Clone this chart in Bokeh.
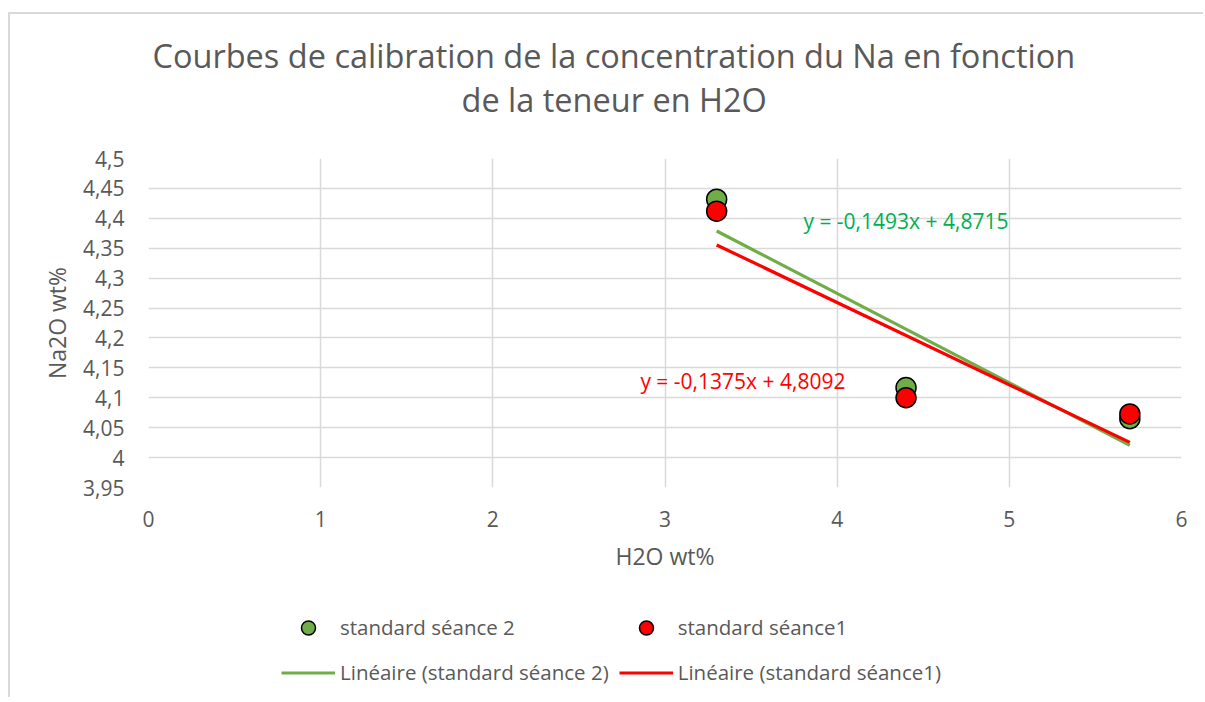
from bokeh.plotting import figure
from bokeh.layouts import column
from bokeh.models import (Range1d, FixedTicker, Label, Legend, LegendItem, Title)
from bokeh.embed import file_html
from bokeh.resources import INLINE

# ---- data ----
x_s2 = [3.3, 4.4, 5.7]
y_s2 = [4.432, 4.117, 4.065]
x_s1 = [3.3, 4.4, 5.7]
y_s1 = [4.412, 4.100, 4.073]

fit_s2 = (-0.1493, 4.8715)   # slope, intercept (linear trendline)
fit_s1 = (-0.1375, 4.8092)
eq_s2 = "y = -0,1493x + 4,8715"
eq_s1 = "y = -0,1375x + 4,8092"

x_ticks = [0, 1, 2, 3, 4, 5, 6]
x_tick_labels = ["0", "1", "2", "3", "4", "5", "6"]
y_ticks = [3.95, 4.0, 4.05, 4.1, 4.15, 4.2, 4.25, 4.3, 4.35, 4.4, 4.45, 4.5]
y_tick_labels = ["3,95", "4", "4,05", "4,1", "4,15", "4,2", "4,25", "4,3",
                 "4,35", "4,4", "4,45", "4,5"]

title_lines = ["Courbes de calibration de la concentration du Na en fonction",
               "de la teneur en H2O"]
names = ["standard séance 2", "standard séance1",
         "Linéaire (standard séance 2)", "Linéaire (standard séance1)"]

FONT = "Open Sans"
TXT = "#595959"
GRID = "#D9D9D9"
GREEN = "#70AD47"
RED = "#FF0000"
EQ_GREEN = "#00B050"
NAN = float("nan")

# ---------------- main chart ----------------
p = figure(frame_width=1033, frame_height=329,
           min_border_left=138, min_border_right=22,
           min_border_top=144, min_border_bottom=110,
           x_range=Range1d(0, 6), y_range=Range1d(3.95, 4.5),
           output_backend="svg", toolbar_location=None,
           background_fill_color="white", border_fill_color="white")
p.outline_line_color = None

# titles (first added is closest to the plot)
p.title = None
t2 = Title(text=title_lines[1], align="left", text_font=FONT, text_font_size="32.5px",
           text_font_style="normal", text_color=TXT, standoff=74, offset=313)
t1 = Title(text=title_lines[0], align="left", text_font=FONT, text_font_size="32.5px",
           text_font_style="normal", text_color=TXT, standoff=-80, offset=4)
p.add_layout(t2, "above")
p.add_layout(t1, "above")

# axes
for ax in (p.xaxis[0], p.yaxis[0]):
    ax.axis_line_color = None
    ax.major_tick_line_color = None
    ax.minor_tick_line_color = None
    ax.major_tick_out = 0
    ax.major_tick_in = 0
    ax.minor_tick_out = 0
    ax.major_label_text_font = FONT
    ax.major_label_text_font_size = "21px"
    ax.major_label_text_color = TXT
    ax.axis_label_text_font = FONT
    ax.axis_label_text_font_size = "23px"
    ax.axis_label_text_font_style = "normal"
    ax.axis_label_text_color = TXT

p.xaxis.ticker = FixedTicker(ticks=x_ticks)
p.xaxis.major_label_overrides = {t: l for t, l in zip(x_ticks, x_tick_labels)}
p.yaxis.ticker = FixedTicker(ticks=y_ticks)
p.yaxis.major_label_overrides = {t: l for t, l in zip(y_ticks, y_tick_labels)}
p.xaxis.axis_label = "H2O wt%"
p.yaxis.axis_label = "Na2O wt%"
p.xaxis.major_label_standoff = 23
p.yaxis.major_label_standoff = 24
p.xaxis.axis_label_standoff = 10
p.yaxis.axis_label_standoff = 7

p.xgrid.ticker = FixedTicker(ticks=x_ticks)
p.ygrid.ticker = FixedTicker(ticks=y_ticks)
p.xgrid.grid_line_color = GRID
p.ygrid.grid_line_color = GRID
p.xgrid.grid_line_width = 1.5
p.ygrid.grid_line_width = 1.5

# trendlines
def trend(xs, fit):
    xe = [min(xs), max(xs)]
    return xe, [fit[0] * v + fit[1] for v in xe]

tx2, ty2 = trend(x_s2, fit_s2)
tx1, ty1 = trend(x_s1, fit_s1)
p.line(tx2, ty2, line_color=GREEN, line_width=3.2)
p.line(tx1, ty1, line_color=RED, line_width=3.2)

# points
p.scatter(x_s2, y_s2, size=20, fill_color=GREEN, line_color="black", line_width=1.5)
p.scatter(x_s1, y_s1, size=20, fill_color=RED, line_color="black", line_width=1.5)

# equation labels
p.add_layout(Label(x=3.804, y=4.395, text=eq_s2, text_font=FONT, text_font_size="21px",
                   text_color=EQ_GREEN, text_baseline="middle", text_align="left"))
p.add_layout(Label(x=2.857, y=4.128, text=eq_s1, text_font=FONT, text_font_size="21px",
                   text_color=RED, text_baseline="middle", text_align="left"))

# ---------------- legend strip ----------------
lf = figure(width=1193, height=100, min_border=0,
            x_range=Range1d(0, 1), y_range=Range1d(0, 1),
            x_axis_location=None, y_axis_location=None,
            output_backend="svg", toolbar_location=None,
            background_fill_color="white", border_fill_color="white")
lf.outline_line_color = None
lf.xgrid.visible = False
lf.ygrid.visible = False

# legend-only renderers (no visible data)
g_c2 = lf.scatter(x=[NAN], y=[NAN], size=20, fill_color=GREEN, line_color="black", line_width=1.5)
g_c1 = lf.scatter(x=[NAN], y=[NAN], size=20, fill_color=RED, line_color="black", line_width=1.5)
g_l2 = lf.line(x=[NAN, NAN], y=[NAN, NAN], line_color=GREEN, line_width=3.2)
g_l1 = lf.line(x=[NAN, NAN], y=[NAN, NAN], line_color=RED, line_width=3.2)

# column-major fill: column 1 = séance 2 items, column 2 = séance1 items
legend = Legend(items=[LegendItem(label=names[0], renderers=[g_c2]),
                       LegendItem(label=names[2], renderers=[g_l2]),
                       LegendItem(label=names[1], renderers=[g_c1]),
                       LegendItem(label=names[3], renderers=[g_l1])],
                ncols=2, location=(133, 7.5),
                glyph_width=54, glyph_height=35, label_height=35,
                label_standoff=5, spacing=10, padding=0, margin=0,
                label_text_font=FONT, label_text_font_size="20.5px",
                label_text_color=TXT,
                border_line_color=None, background_fill_alpha=0)
lf.add_layout(legend, "center")

layout = column(p, lf, spacing=0)
layout.styles = {"border-top": "2px solid #D9D9D9", "border-left": "2px solid #D9D9D9",
                 "margin-top": "12px", "margin-left": "8px"}

open("out.html", "w").write(file_html(layout, INLINE))
